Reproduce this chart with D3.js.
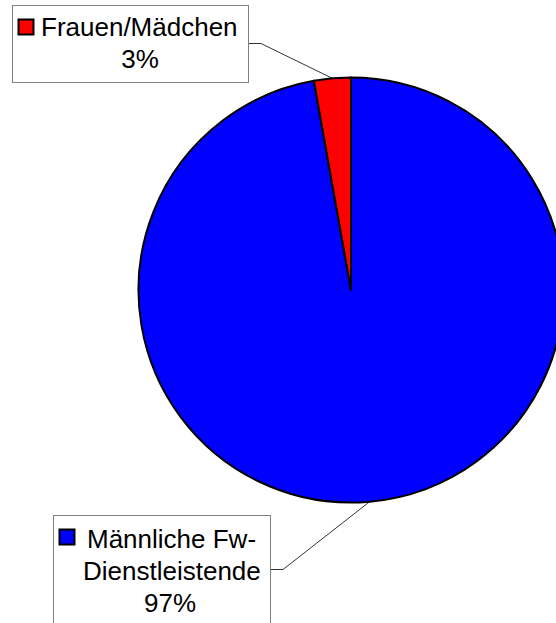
<!DOCTYPE html>
<html><head><meta charset="utf-8">
<script src="https://cdn.jsdelivr.net/npm/d3@7/dist/d3.min.js"></script>
<style>html,body{margin:0;padding:0;background:#fff;overflow:hidden}</style>
</head><body>
<svg id="c" width="556" height="623"></svg>
<script>
const categories = ["Männliche Fw-Dienstleistende", "Frauen/Mädchen"];
const values = [97.2, 2.8];
const labelLines = [["Männliche Fw-", "Dienstleistende", "97%"], ["Frauen/Mädchen", "3%"]];
const colors = ["#0000ff", "#ff0000"];

const svg = d3.select("#c");
const cx = 351, cy = 290, R = 212.5;
const data = categories.map((c, i) => ({name: c, value: values[i], color: colors[i], lines: labelLines[i]}));
const pie = d3.pie().sort(null).value(d => d.value);
const arcs = pie(data);
const arc = d3.arc().innerRadius(0).outerRadius(R);
const g = svg.append("g").attr("transform", `translate(${cx},${cy})`);
g.selectAll("path").data(arcs).join("path")
  .attr("d", arc).attr("fill", d => d.data.color)
  .attr("stroke", "#000").attr("stroke-width", 2).attr("stroke-linejoin", "round");

// label boxes
const boxes = [
  {x: 53.5, y: 515.5, w: 217, h: 120, lineY: [548, 580, 612], swatch: [59.5, 529.5], anchorY: 569.5, textX: [87, 83, 170], center: [false, false, true]},
  {x: 12.5, y: 5.5, w: 236, h: 77, lineY: [36, 68], swatch: [18.5, 19.5], anchorY: 43.5, textX: [41, 140], center: [false, true]}
];
arcs.forEach((a, i) => {
  const b = boxes[i];
  const mid = (a.startAngle + a.endAngle) / 2;
  const px = cx + R * Math.sin(mid), py = cy - R * Math.cos(mid);
  const bx = b.x + b.w;
  svg.append("path")
    .attr("d", `M${bx},${b.anchorY}H${bx + 12.5}L${px},${py}`)
    .attr("fill", "none").attr("stroke", "#000").attr("stroke-width", 0.8);
  svg.append("rect").attr("x", b.x).attr("y", b.y).attr("width", b.w).attr("height", b.h)
    .attr("fill", "#fff").attr("stroke", "#808080").attr("stroke-width", 1);
  svg.append("rect").attr("x", b.swatch[0]).attr("y", b.swatch[1]).attr("width", 15).attr("height", 15)
    .attr("fill", a.data.color).attr("stroke", "#000").attr("stroke-width", 2);
  a.data.lines.forEach((t, j) => {
    svg.append("text").attr("x", b.textX[j]).attr("y", b.lineY[j])
      .attr("text-anchor", b.center[j] ? "middle" : "start")
      .attr("font-family", "Liberation Sans, Arial, sans-serif").attr("font-size", 26)
      .attr("fill", "#000").text(t);
  });
});
</script>
</body></html>
